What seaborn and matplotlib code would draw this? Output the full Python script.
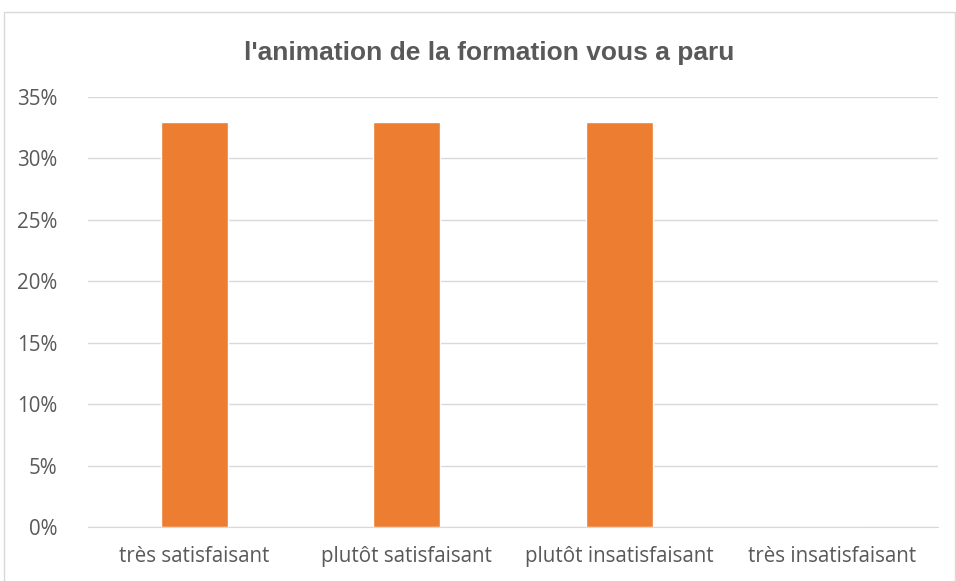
import pandas as pd
import matplotlib.pyplot as plt
import seaborn as sns
from matplotlib.patches import Rectangle
from matplotlib.ticker import PercentFormatter

categories = ["très satisfaisant", "plutôt satisfaisant", "plutôt insatisfaisant", "très insatisfaisant"]
values = [33, 33, 33, 0]
title = "l'animation de la formation vous a paru"


def main():
    df = pd.DataFrame({"reponse": categories, "pct": values})

    sns.set_style("white")
    plt.rcParams["font.family"] = ["Open Sans", "DejaVu Sans"]

    fig = plt.figure(figsize=(9.56, 5.81), dpi=100)
    ax = fig.add_axes([0.092, 0.093, 0.889, 0.740])

    sns.barplot(data=df, x="reponse", y="pct", color="#ED7D31", width=0.315,
                saturation=1, ax=ax, zorder=3)

    ax.set_ylim(0, 35)
    ax.set_yticks(range(0, 36, 5))
    ax.yaxis.set_major_formatter(PercentFormatter(decimals=0))
    ax.grid(axis="y", color="#D9D9D9", linewidth=1, zorder=0)
    for s in ["top", "right", "left"]:
        ax.spines[s].set_visible(False)
    ax.spines["bottom"].set_color("#D9D9D9")
    ax.set_xlabel("")
    ax.set_ylabel("")
    ax.tick_params(axis="both", length=0, labelsize=14.8, labelcolor="#595959")
    ax.tick_params(axis="x", pad=14)
    ax.tick_params(axis="y", pad=22)

    fig.text(0.512, 0.908, title, ha="center", va="center", fontsize=19,
             fontweight="bold", color="#595959", family=["Liberation Sans", "DejaVu Sans"])

    # cadre du graphique
    fig.patches.append(Rectangle((4 / 956, -0.05), 951 / 956, 1.05 - 12 / 581,
                                 transform=fig.transFigure, fill=False,
                                 edgecolor="#D9D9D9", linewidth=1))

    fig.savefig("out.png", dpi=100)


if __name__ == "__main__":
    main()
